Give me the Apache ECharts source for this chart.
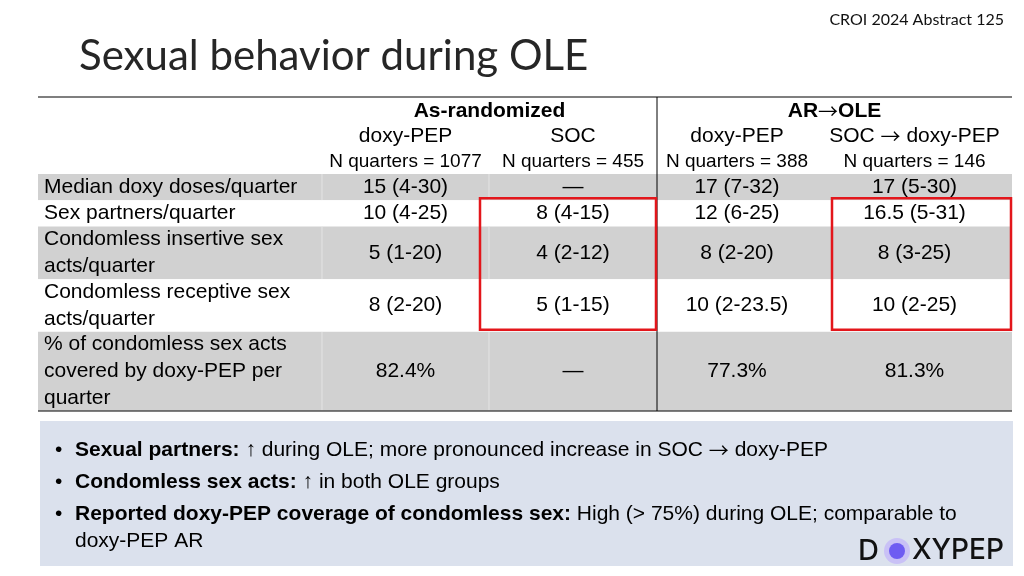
<!DOCTYPE html>
<html><head><meta charset="utf-8">
<script src="https://cdn.jsdelivr.net/npm/echarts@6/dist/echarts.min.js"></script>
<style>html,body{margin:0;padding:0;background:#fff}#c{width:1024px;height:576px}</style>
</head><body><div id="c"></div>
<script>
// ---- data ----
const titleText = 'Sexual behavior during OLE';
const sourceText = 'CROI 2024 Abstract 125';
const groups = ['As-randomized', 'AR\u2192OLE'];
const arms = ['doxy-PEP', 'SOC', 'doxy-PEP', 'SOC \u2192 doxy-PEP'];
const nQuarters = [1077, 455, 388, 146];
const rowLabels = [
  'Median doxy doses/quarter',
  'Sex partners/quarter',
  'Condomless insertive sex\nacts/quarter',
  'Condomless receptive sex\nacts/quarter',
  '% of condomless sex acts\ncovered by doxy-PEP per\nquarter'
];
const arDoxyPep = ['15 (4-30)', '10 (4-25)', '5 (1-20)', '8 (2-20)', '82.4%'];
const arSoc = ['\u2014', '8 (4-15)', '4 (2-12)', '5 (1-15)', '\u2014'];
const oleDoxyPep = ['17 (7-32)', '12 (6-25)', '8 (2-20)', '10 (2-23.5)', '77.3%'];
const oleSocDoxyPep = ['17 (5-30)', '16.5 (5-31)', '8 (3-25)', '10 (2-25)', '81.3%'];
// highlighted blocks: [arm column index, first row, last row]
const highlights = [[1, 1, 3], [3, 1, 3]];
const bulletLeads = ['Sexual partners:', 'Condomless sex acts:', 'Reported doxy-PEP coverage of condomless sex:'];
const bulletTexts = [
  ' \u2191 during OLE; more pronounced increase in SOC \u2192 doxy-PEP',
  ' \u2191 in both OLE groups',
  ' High (> 75%) during OLE; comparable to\ndoxy-PEP AR'
];

// ---- layout (not data) ----
const colEdges = [0, 284, 451, 619, 779, 974];
const headerH = 77;
const lineH = 26.3;
const rowTop = [headerH];
rowLabels.forEach(l => rowTop.push(rowTop[rowTop.length - 1] + l.split('\n').length * lineH));
const valueCols = [arDoxyPep, arSoc, oleDoxyPep, oleSocDoxyPep];
const FAM = '"Liberation Sans", Arial, sans-serif';
const FF = FAM;
const ARROWFAM = '"Noto Sans CJK SC", "DejaVu Sans", sans-serif';
const GRAY = '#d1d1d1';

// wrap arrows in a rich segment so they render with a full-width thin arrow glyph
function arrowRich(s, key) {
  return s.split('\u2192').map(p => p ? '{' + key + '|' + p + '}' : '').join('{arr|\u2192}');
}

const cellData = [];
rowLabels.forEach((_, r) => { for (let c = 0; c < 5; c++) cellData.push([r, c]); });

function rectOf(api, x0, y0, x1, y1) {
  const p0 = api.coord([x0, y0]), p1 = api.coord([x1, y1]);
  return { x: p0[0], y: p0[1], width: p1[0] - p0[0], height: p1[1] - p0[1] };
}

const chart = echarts.init(document.getElementById('c'), null, { renderer: 'canvas' });
chart.setOption({
  animation: false,
  title: [
    { text: titleText, left: 74, top: 30, textStyle: { fontFamily: 'Lato', fontWeight: 'normal', fontSize: 42, color: '#262626' } },
    { text: sourceText, right: 15, top: 7, textStyle: { fontFamily: 'Lato', fontWeight: 'normal', fontSize: 16, color: '#111' } }
  ],
  grid: { left: 38, top: 97, width: 974, height: 314 },
  xAxis: { type: 'value', min: 0, max: 974, show: false },
  yAxis: { type: 'value', min: 0, max: 314, inverse: true, show: false },
  series: [
    {
      type: 'custom', name: 'cells', clip: false, silent: true, z: 1,
      data: cellData,
      renderItem: function (params, api) {
        const [r, c] = cellData[params.dataIndex];
        const rc = rectOf(api, colEdges[c], rowTop[r], colEdges[c + 1], rowTop[r + 1]);
        const gray = r % 2 === 0;
        const children = [{ type: 'rect', shape: rc, style: { fill: gray ? GRAY : '#fff' } }];
        if (gray && (c === 1 || c === 2)) {
          children.push({ type: 'line', shape: { x1: rc.x, y1: rc.y, x2: rc.x, y2: rc.y + rc.height }, style: { stroke: '#e4e4e4', lineWidth: 1 } });
        }
        if (c === 0) {
          children.push({ type: 'text', style: { text: rowLabels[r], x: rc.x + 6, y: rc.y + rc.height / 2, align: 'left', verticalAlign: 'middle', font: '21px ' + FF, lineHeight: 27, fill: '#000' } });
        } else {
          children.push({ type: 'text', style: { text: valueCols[c - 1][r], x: rc.x + rc.width / 2, y: rc.y + rc.height / 2, align: 'center', verticalAlign: 'middle', font: '21px ' + FF, fill: '#000' } });
        }
        return { type: 'group', children: children };
      }
    },
    {
      type: 'custom', name: 'arms', clip: false, silent: true, z: 2,
      data: arms.map((a, i) => [i, nQuarters[i]]),
      renderItem: function (params, api) {
        const i = params.dataIndex;
        const p0 = api.coord([colEdges[i + 1], 0]), p1 = api.coord([colEdges[i + 2], 0]);
        const cx = (p0[0] + p1[0]) / 2;
        return { type: 'group', children: [
          { type: 'text', style: { text: arrowRich(arms[i], 't'), x: cx, y: api.coord([0, 39])[1], align: 'center', verticalAlign: 'middle', fill: '#000',
              rich: { t: { fontSize: 21, fontFamily: FAM }, arr: { fontSize: 20, fontFamily: ARROWFAM } } } },
          { type: 'text', style: { text: 'N quarters = ' + nQuarters[i], x: cx, y: api.coord([0, 65])[1], align: 'center', verticalAlign: 'middle', font: '19px ' + FF, fill: '#000' } }
        ] };
      }
    },
    {
      type: 'custom', name: 'groups', clip: false, silent: true, z: 2,
      data: groups.map((g, i) => [i, 0]),
      renderItem: function (params, api) {
        const i = params.dataIndex;
        const p0 = api.coord([colEdges[1 + 2 * i], 14]), p1 = api.coord([colEdges[3 + 2 * i], 14]);
        return { type: 'text', style: { text: arrowRich(groups[i], 'g'), x: (p0[0] + p1[0]) / 2, y: p0[1], align: 'center', verticalAlign: 'middle', fill: '#000',
          rich: { g: { fontSize: 21, fontWeight: 'bold', fontFamily: FAM }, arr: { fontSize: 20, fontFamily: ARROWFAM } } } };
      }
    },
    {
      type: 'custom', name: 'frame', clip: false, silent: true, z: 3,
      data: [[0, 0]],
      renderItem: function (params, api) {
        const tl = api.coord([0, 0]), br = api.coord([974, 314]);
        const vx = api.coord([colEdges[3], 0])[0];
        return { type: 'group', children: [
          { type: 'line', shape: { x1: tl[0], y1: tl[1], x2: br[0], y2: tl[1] }, style: { stroke: '#000', lineWidth: 1.2 } },
          { type: 'line', shape: { x1: tl[0], y1: br[1], x2: br[0], y2: br[1] }, style: { stroke: '#000', lineWidth: 1.2 } },
          { type: 'line', shape: { x1: vx, y1: tl[1], x2: vx, y2: br[1] }, style: { stroke: '#000', lineWidth: 1 } }
        ] };
      }
    },
    {
      type: 'custom', name: 'highlights', clip: false, silent: true, z: 4,
      data: highlights,
      renderItem: function (params, api) {
        const [a, r0, r1] = highlights[params.dataIndex];
        const padL = a === 1 ? -9 : 15;
        const rc = rectOf(api, colEdges[a + 1] + padL, rowTop[r0] - 2, colEdges[a + 2] - 1, rowTop[r1 + 1] - 2);
        return { type: 'rect', shape: rc, style: { fill: 'none', stroke: '#e3161b', lineWidth: 2.5 } };
      }
    }
  ],
  graphic: [
    { type: 'rect', x: 40, y: 421, shape: { width: 973, height: 145 }, style: { fill: '#dbe1ed' }, z: 0 },
    ...bulletLeads.map((lead, i) => ({
      type: 'text', x: 55, y: 450 + 32 * i, z: 5,
      style: { text: '\u2022', fontSize: 21, fontFamily: FAM, fill: '#000', verticalAlign: 'middle' }
    })),
    ...bulletLeads.map((lead, i) => ({
      type: 'text', x: 75, y: 450 + 32 * i - 13.5, z: 5,
      style: {
        text: '{b|' + lead + '}' + bulletTexts[i].split('\n').map(t => arrowRich(t, 'n')).join('\n'),
        verticalAlign: 'top', lineHeight: 27, fill: '#000',
        rich: {
          b: { fontSize: 21, fontWeight: 'bold', fontFamily: FAM, lineHeight: 27 },
          n: { fontSize: 21, fontFamily: FAM, lineHeight: 27 },
          arr: { fontSize: 20, fontFamily: ARROWFAM, lineHeight: 27 }
        }
      }
    })),
    { type: 'text', x: 858, y: 551, z: 6, style: { text: 'D', fontSize: 29, fontWeight: 500, fontFamily: 'Inter', fill: '#111', verticalAlign: 'middle' } },
    { type: 'circle', z: 6, shape: { cx: 897, cy: 551, r: 13 }, style: { fill: '#c9c1f6' } },
    { type: 'circle', z: 7, shape: { cx: 897, cy: 551, r: 8 }, style: { fill: '#6e5cf2' } },
    { type: 'text', x: 912, y: 551, z: 6, style: { text: 'XYPEP', fontSize: 28, fontWeight: 500, fontFamily: 'Inter', fill: '#111', verticalAlign: 'middle' } }
  ]
});
</script></body></html>
